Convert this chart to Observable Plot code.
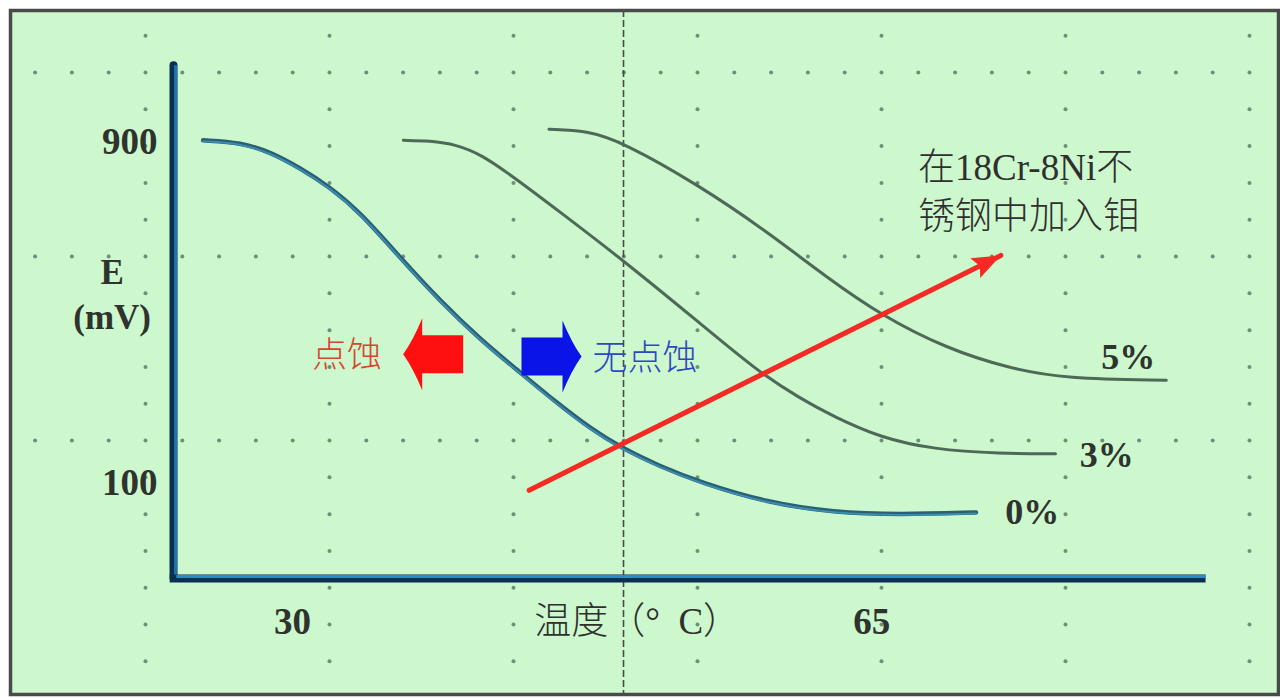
<!DOCTYPE html>
<html>
<head>
<meta charset="utf-8">
<script src="https://cdn.jsdelivr.net/npm/d3@7"></script>
<script src="https://cdn.jsdelivr.net/npm/@observablehq/plot@0.6"></script>
<style>
  html, body { margin: 0; padding: 0; background: #ffffff; }
  #chart { width: 1280px; height: 698px; }
</style>
</head>
<body>
<div id="chart"></div>
<script>
// ---------- data (temperature °C, potential mV) ----------
const mo0 = [
  [24.6, 905], [26.9, 900], [28.7, 877], [30.5, 839], [32.2, 797], [34.1, 736],
  [36.5, 630], [38.9, 529], [41.4, 436], [43.4, 372], [46.0, 288], [48.0, 229],
  [49.8, 185], [52.2, 140], [54.7, 102], [58.7, 55], [62.7, 32], [66.7, 27], [71.3, 32]
];
const mo3 = [
  [36.7, 905], [38.3, 904], [39.9, 895], [41.4, 872], [43.4, 818], [46.2, 736],
  [50.0, 623], [54.5, 480], [58.1, 363], [60.7, 299], [62.7, 257], [65.5, 208],
  [68.7, 180], [72.8, 170], [76.1, 170]
];
const mo5 = [
  [45.5, 931], [47.8, 928], [50.0, 900], [54.5, 801], [58.5, 696], [62.3, 583],
  [65.6, 494], [69.5, 417], [73.3, 370], [76.7, 346], [82.8, 342]
];
const seriesLabels = [
  {label: "5%", t: 80.5, e: 396},
  {label: "3%", t: 79.2, e: 166},
  {label: "0%", t: 74.7, e: 32}
];
const yTicks = [100, 900];
const xTicks = [30, 65];
const criticalTemp = 50;
const moArrow = [{t1: 44.3, e1: 84, t2: 72.8, e2: 635}];
const pittingArrows = [
  {t: 38.5, e: 403, dir: 180, color: "#ff1010"},
  {t: 45.65, e: 398, dir: 0, color: "#0a14e8"}
];
const regionTexts = [
  {text: "点蚀", t: 33.3, e: 400, color: "#d8452c"},
  {text: "无点蚀", t: 51.3, e: 393, color: "#2d48c0"}
];
const noteText = ["在18Cr-8Ni不", "锈钢中加入钼"];

// ---------- layout (data-space extents) ----------
const W = 1280, H = 698;
const xDomain = [12.356, 89.698];
const yDomain = [-404.4, 1233.14];
const axisT = 22.81, axisE = -123, axisTopE = 1080, axisRightT = 85.2;
const labelRowE = -226;
const kx = W / (xDomain[1] - xDomain[0]);
const ky = H / (yDomain[1] - yDomain[0]);

// decorative dotted lattice (5 dots per grid cell)
const gridT0 = 21.117, gridStepT = 11.118;
const gridE0 = 1064.2, gridStepE = 431.7;
const lattice = [];
const tMin = 13.2, tMax = 89.3, eMin = -385, eMax = 1200;
for (let i = -2; i <= 8; i++) {
  const t = gridT0 + i * gridStepT;
  if (t < tMin || t > tMax) continue;
  for (let k = -30; k <= 30; k++) {
    const e = gridE0 + k * gridStepE / 5;
    if (e >= eMin && e <= eMax) lattice.push({t, e});
  }
}
for (let j = -2; j <= 5; j++) {
  const e = gridE0 + j * gridStepE;
  if (e < eMin || e > eMax) continue;
  for (let k = -30; k <= 50; k++) {
    if (k % 5 === 0) continue;
    const t = gridT0 + k * gridStepT / 5;
    if (t >= tMin && t <= tMax) lattice.push({t, e});
  }
}

// block arrow symbol (points right; rotate for left)
const blockArrow = {
  draw(context, size) {
    const r = Math.sqrt(size / Math.PI);
    const s = r / 30;
    context.moveTo(-30 * s, -19 * s);
    context.lineTo(11 * s, -19 * s);
    context.lineTo(11 * s, -36 * s);
    context.quadraticCurveTo(20 * s, -14 * s, 30 * s, 0);
    context.quadraticCurveTo(20 * s, 14 * s, 11 * s, 36 * s);
    context.lineTo(11 * s, 19 * s);
    context.lineTo(-30 * s, 19 * s);
    context.closePath();
  }
};
// filled arrow head with its tip at the origin, pointing right
const arrowHead = {
  draw(context, size) {
    const r = Math.sqrt(size / Math.PI);
    context.moveTo(0, 0);
    context.lineTo(-2.2 * r, -0.85 * r);
    context.lineTo(-1.8 * r, 0);
    context.lineTo(-2.2 * r, 0.85 * r);
    context.closePath();
  }
};
const headAngle = d => Math.atan2(-(d.e2 - d.e1) * ky, (d.t2 - d.t1) * kx) * 180 / Math.PI;

const toRows = a => a.map(([t, e]) => ({t, e}));
const serif = "'Liberation Serif', 'DejaVu Serif', serif";
const cjk = "'Liberation Serif', 'Noto Sans CJK SC', sans-serif";

const plot = Plot.plot({
  width: W, height: H, margin: 0,
  x: {domain: xDomain, axis: null},
  y: {domain: yDomain, axis: null},
  style: {background: "#ffffff", overflow: "visible"},
  marks: [
    Plot.frame({fill: "#cdf7cd", stroke: "none", insetLeft: 10, insetTop: 10, insetRight: 2, insetBottom: 4}),
    Plot.dot(lattice, {x: "t", y: "e", r: 2, fill: "#6f8f79", stroke: "none"}),
    Plot.ruleX([criticalTemp], {stroke: "#4a4a4a", strokeWidth: 1.6, strokeDasharray: "7,3", insetTop: 10, insetBottom: 4}),
    // axes
    Plot.ruleX([axisT], {y1: axisE, y2: axisTopE, stroke: "#0b2f50", strokeWidth: 8, strokeLinecap: "round"}),
    Plot.ruleX([axisT], {y1: axisE, y2: axisTopE, stroke: "#1b74ac", strokeWidth: 3, dx: 2}),
    Plot.ruleY([axisE], {x1: axisT - 0.2, x2: axisRightT, stroke: "#0b2f50", strokeWidth: 8}),
    Plot.ruleY([axisE], {x1: axisT + 0.2, x2: axisRightT, stroke: "#2b8cc4", strokeWidth: 3, dy: -2}),
    // curves
    Plot.line(toRows(mo5), {x: "t", y: "e", stroke: "#4d6a58", strokeWidth: 3, curve: "basis"}),
    Plot.line(toRows(mo3), {x: "t", y: "e", stroke: "#4d6a58", strokeWidth: 3, curve: "basis"}),
    Plot.line(toRows(mo0), {x: "t", y: "e", stroke: "#2a5f74", strokeWidth: 4.5, curve: "basis"}),
    Plot.line(toRows(mo0), {x: "t", y: "e", stroke: "#3b8fb4", strokeWidth: 1.8, curve: "basis", dy: 1}),
    // Mo arrow
    Plot.link(moArrow, {x1: "t1", y1: "e1", x2: "t2", y2: "e2", stroke: "#f52a24", strokeWidth: 5, strokeLinecap: "round"}),
    Plot.dot(moArrow, {x: "t2", y: "e2", r: 13, symbol: arrowHead, rotate: headAngle, fill: "#f52a24", stroke: "none"}),
    // pitting arrows
    Plot.dot(pittingArrows, {x: "t", y: "e", r: 30, symbol: blockArrow, rotate: "dir", fill: "color", stroke: "none"}),
    Plot.text(regionTexts, {x: "t", y: "e", text: "text", fill: "color", fontSize: 35, fontFamily: "'Noto Sans CJK SC', sans-serif", fontWeight: 300}),
    // note
    Plot.text([noteText.join("\n")], {x: 67.8, y: 792, text: d => d, textAnchor: "start", fontSize: 37, lineHeight: 1.35, fill: "#2f2f2f", fontFamily: cjk, fontWeight: 300}),
    // series labels
    Plot.text(seriesLabels, {x: "t", y: "e", text: "label", fontSize: 36, fontWeight: "bold", fontFamily: serif, fill: "#2e332e"}),
    // tick labels
    Plot.text(yTicks, {x: axisT, y: d => d, text: d => String(d), dx: -16, textAnchor: "end", fontSize: 37, fontWeight: "bold", fontFamily: serif, fill: "#2e332e"}),
    Plot.text(xTicks, {x: d => d, y: labelRowE, text: d => String(d), fontSize: 37, fontWeight: "bold", fontFamily: serif, fill: "#2e332e"}),
    Plot.text(["E\n(mV)"], {x: 19.1, y: 550, text: d => d, fontSize: 35, lineHeight: 1.3, fontWeight: "bold", fontFamily: serif, fill: "#2e332e"}),
    Plot.text(["温度（°  C）"], {x: 44.6, y: labelRowE, text: d => d, textAnchor: "start", fontSize: 37, fontFamily: cjk, fontWeight: 300, fill: "#2f2f2f"}),
    Plot.frame({fill: "none", stroke: "#4a4a4a", strokeWidth: 3.5, insetLeft: 10, insetTop: 10, insetRight: 2, insetBottom: 4})
  ]
});
document.getElementById("chart").append(plot);
</script>
</body>
</html>
